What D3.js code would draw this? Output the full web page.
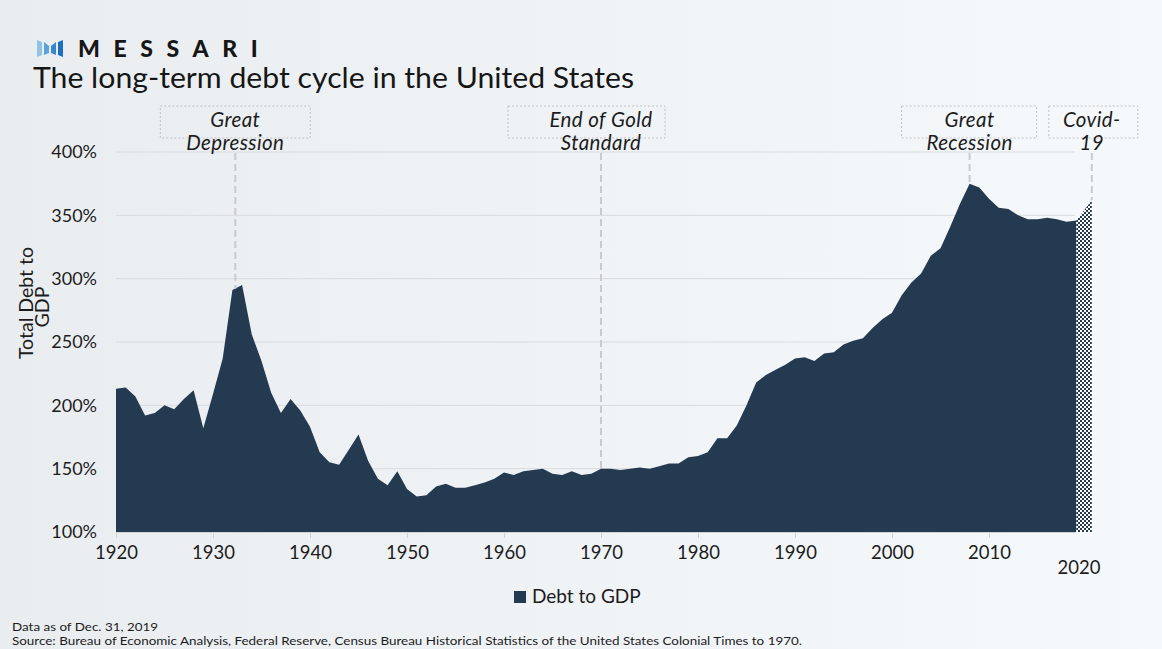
<!DOCTYPE html>
<html>
<head>
	<meta charset='utf-8'>
	<script src="https://cdnjs.cloudflare.com/ajax/libs/d3/7.8.5/d3.min.js" charset="utf-8"></script>
	<style>
	body { margin:0; font-family:Lato, sans-serif; background:#eef1f4; }
	svg { display:block; }
	</style>
</head>
<body>
<script>

var years = d3.range(1920, 2020);
var debtToGdp = [
	213, 214, 207, 192, 194, 200, 197, 205, 212, 182,
	209, 237, 291, 295, 256, 235, 210, 194, 205, 196,
	183, 163, 155, 153, 165, 177, 156, 142, 137, 148,
	134, 128, 129, 136, 138, 135, 135, 137, 139, 142,
	147, 145, 148, 149, 150, 146, 145, 148, 145, 146,
	150, 150, 149, 150, 151, 150, 152, 154, 154, 159,
	160, 163, 174, 174, 184, 200, 218, 224, 228, 232,
	237, 238, 235, 241, 242, 248, 251, 253, 261, 268,
	273, 287, 297, 304, 318, 324, 341, 359, 375, 372,
	363, 356, 355, 350, 347, 347, 348, 347, 345, 346
];
var covidYears = [2019, 2020.6];
var covidValues = [346, 362];

var yTicks = [100, 150, 200, 250, 300, 350, 400];
var xTicks = [1920, 1930, 1940, 1950, 1960, 1970, 1980, 1990, 2000, 2010];

var eventNames = [['Great', 'Depression'], ['End of Gold', 'Standard'], ['Great', 'Recession'], ['Covid-', '19']];
var eventYears = [1932.3, 1970, 2008, 2020.6];
var eventLineEnds = [292, 150, 375, 362];

var width = 1162, height = 649;
var navy = '#243a50';

var svg = d3.select('body').append('svg').attr('width', width).attr('height', height);

var defs = svg.append('defs');
var grad = defs.append('linearGradient').attr('id', 'bg');
grad.append('stop').attr('offset', '0%').attr('stop-color', '#eaedf0');
grad.append('stop').attr('offset', '100%').attr('stop-color', '#f6f9fc');
var pat = defs.append('pattern').attr('id', 'checker').attr('patternUnits', 'userSpaceOnUse')
	.attr('width', 4).attr('height', 4);
pat.append('rect').attr('width', 4).attr('height', 4).attr('fill', '#ffffff');
pat.append('rect').attr('width', 2).attr('height', 2).attr('fill', navy);
pat.append('rect').attr('x', 2).attr('y', 2).attr('width', 2).attr('height', 2).attr('fill', navy);

svg.append('rect').attr('width', width).attr('height', height).attr('fill', 'url(#bg)');

var x = d3.scaleLinear().domain([1920, 2020]).range([116, 1086]);
var y = d3.scaleLinear().domain([100, 400]).range([532, 152]);

// logo
var logo = svg.append('g').attr('transform', 'translate(37,38)');
logo.append('path').attr('d', 'M0,2 L5,4 L5,17 L0,19 Z').attr('fill', '#8fc3ea');
logo.append('path').attr('d', 'M7,4 L12,8 L12,15 L7,17 Z').attr('fill', '#5aa3de');
logo.append('path').attr('d', 'M14,8 L19,4 L19,17 L14,15 Z').attr('fill', '#3a86cf');
logo.append('path').attr('d', 'M21,4 L26,2 L26,19 L21,17 Z').attr('fill', '#1f6fc0');
svg.append('text').attr('x', 78).attr('y', 57).text('MESSARI')
	.attr('font-size', 23).attr('font-weight', 900).attr('letter-spacing', 13.6).attr('fill', '#161616');

svg.append('text').attr('x', 33).attr('y', 88).text('The long-term debt cycle in the United States')
	.attr('font-size', 28).attr('fill', '#161616').attr('textLength', 601).attr('lengthAdjust', 'spacingAndGlyphs');

// grid
svg.append('g').selectAll('line').data(yTicks.slice(1)).enter().append('line')
	.attr('x1', 116).attr('x2', 1075)
	.attr('y1', function (d) { return y(d); }).attr('y2', function (d) { return y(d); })
	.attr('stroke', '#d8dbde').attr('stroke-width', 1);

// area
var area = d3.area()
	.x(function (d) { return x(d[0]); })
	.y0(y(100))
	.y1(function (d) { return y(d[1]); });

svg.append('path').datum(d3.zip(years, debtToGdp)).attr('d', area).attr('fill', navy);
svg.append('path').datum(d3.zip(covidYears, covidValues)).attr('d', area).attr('fill', 'url(#checker)');

// axes
var xAxis = svg.append('g').attr('transform', 'translate(0,' + y(100) + ')')
	.call(d3.axisBottom(x).tickValues(xTicks).tickSize(6).tickPadding(8).tickFormat(d3.format('d')));
xAxis.select('.domain').attr('d', 'M' + x(1920) + ',0.5H1076').attr('stroke', '#d0d3d6');
xAxis.selectAll('.tick line').attr('stroke', '#d0d3d6');
xAxis.selectAll('.tick text').attr('font-size', 18.5).attr('fill', '#1c1c1c').attr('font-family', 'Lato');
svg.append('text').attr('x', 1079).attr('y', 574).attr('text-anchor', 'middle').text('2020')
	.attr('font-size', 18.5).attr('fill', '#1c1c1c');

var yAxis = svg.append('g').attr('transform', 'translate(97,0)')
	.call(d3.axisLeft(y).tickValues(yTicks).tickSize(0).tickPadding(0).tickFormat(function (d) { return d + '%'; }));
yAxis.select('.domain').remove();
yAxis.selectAll('.tick text').attr('font-size', 18).attr('fill', '#1c1c1c').attr('font-family', 'Lato');

var yl = svg.append('text').attr('transform', 'translate(33,303) rotate(-90)').attr('text-anchor', 'middle')
	.attr('font-size', 19.5).attr('fill', '#1c1c1c');
yl.append('tspan').attr('x', 0).attr('dy', 0).text('Total Debt to');
yl.append('tspan').attr('x', -4).attr('dy', 16).text('GDP');

// annotations
var boxLeft = [-75, -93, -68, -43], boxWidth = [150, 157, 135, 89];
eventYears.forEach(function (yr, i) {
	var cx = x(yr);
	svg.append('line').attr('x1', cx).attr('x2', cx).attr('y1', 153).attr('y2', y(eventLineEnds[i]))
		.attr('stroke', '#c9cbce').attr('stroke-width', 2).attr('stroke-dasharray', '7,4');
	svg.append('rect').attr('x', cx + boxLeft[i]).attr('y', 106).attr('width', boxWidth[i]).attr('height', 32)
		.attr('fill', 'none').attr('stroke', '#bfc2c5').attr('stroke-width', 1).attr('stroke-dasharray', '2,2');
	svg.selectAll(null).data(eventNames[i]).enter().append('text')
		.attr('x', cx).attr('y', function (d, j) { return 127 + j * 23; })
		.attr('text-anchor', 'middle').attr('font-size', 20.5).attr('font-style', 'italic').attr('fill', '#1c1c1c')
		.attr('letter-spacing', 0.4)
		.text(function (d) { return d; });
});

// legend
svg.append('rect').attr('x', 514).attr('y', 591).attr('width', 12).attr('height', 12).attr('fill', navy);
svg.append('text').attr('x', 532).attr('y', 603).text('Debt to GDP').attr('font-size', 19).attr('fill', '#1c1c1c');

// notes
svg.append('text').attr('x', 12).attr('y', 631).text('Data as of Dec. 31, 2019')
	.attr('font-size', 12).attr('fill', '#1c1c1c').attr('textLength', 146).attr('lengthAdjust', 'spacingAndGlyphs');
svg.append('text').attr('x', 12).attr('y', 645)
	.text('Source: Bureau of Economic Analysis, Federal Reserve, Census Bureau Historical Statistics of the United States Colonial Times to 1970.')
	.attr('font-size', 12).attr('fill', '#1c1c1c').attr('textLength', 790).attr('lengthAdjust', 'spacingAndGlyphs');

</script>
</body>
</html>
